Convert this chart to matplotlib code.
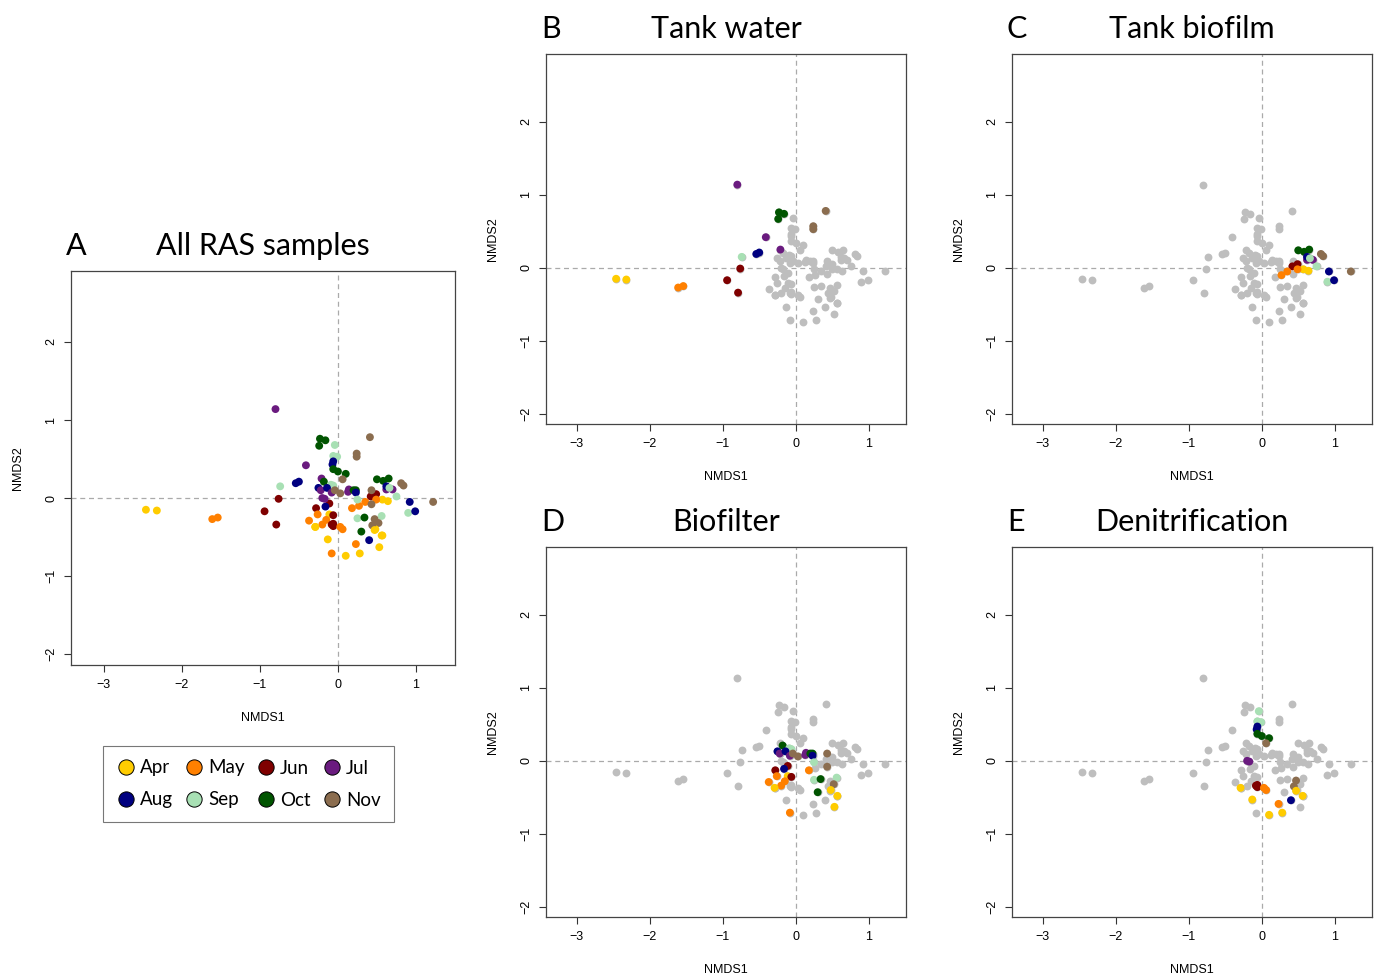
import numpy as np
import matplotlib
matplotlib.use('Agg')
import matplotlib.pyplot as plt
from matplotlib.lines import Line2D

W, H = 1381, 977

months = ['Apr', 'May', 'Jun', 'Jul', 'Aug', 'Sep', 'Oct', 'Nov']
month_colors = ['#FFCC00', '#FF8000', '#7F0000', '#6A1B7F',
                '#000080', '#A8E0B4', '#005400', '#8B6D4F']

# NMDS scores per compartment (x, y, sampling month)
tank_water_x = [-0.80, -0.23, -0.16, -0.24, 0.41, 0.24, 0.24, -0.41, -0.21, -0.54,
                -0.50, -0.74, -0.76, -0.94, -0.79, -2.46, -2.32, -1.61, -1.54]
tank_water_y = [1.14, 0.76, 0.74, 0.67, 0.78, 0.57, 0.53, 0.42, 0.25, 0.19,
                0.21, 0.15, -0.01, -0.17, -0.34, -0.15, -0.16, -0.27, -0.25]
tank_water_m = ['Jul', 'Oct', 'Oct', 'Oct', 'Nov', 'Nov', 'Nov', 'Jul', 'Jul', 'Aug',
                'Aug', 'Sep', 'Jun', 'Jun', 'Jun', 'Apr', 'Apr', 'May', 'May']

biofilm_x = [0.50, 0.58, 0.65, 0.62, 0.70, 0.62, 0.66, 0.81, 0.84, 1.22, 0.42, 0.49,
             0.57, 0.64, 0.49, 0.35, 0.27, 0.75, 0.90, 0.92, 0.99]
biofilm_y = [0.24, 0.22, 0.25, 0.11, 0.11, 0.15, 0.13, 0.19, 0.16, -0.05, 0.02, 0.05,
             -0.02, -0.04, -0.02, -0.05, -0.10, 0.02, -0.19, -0.05, -0.17]
biofilm_m = ['Oct', 'Oct', 'Oct', 'Jul', 'Jul', 'Aug', 'Sep', 'Nov', 'Nov', 'Nov', 'Jun', 'Jun',
             'Apr', 'Apr', 'May', 'May', 'May', 'Sep', 'Sep', 'Aug', 'Aug']

biofilter_x = [-0.18, -0.09, -0.06, -0.25, -0.22, -0.14, -0.08, -0.04, 0.03, 0.14, 0.13,
               0.20, 0.23, 0.23, 0.43, 0.25, 0.43, 0.18, -0.11, -0.16, -0.28, -0.26,
               -0.11, -0.06, -0.15, -0.37, -0.20, -0.29, 0.25, 0.34, 0.56, 0.52, 0.48,
               0.30, 0.57, 0.53, -0.08]
biofilter_y = [0.21, 0.17, 0.16, 0.13, 0.10, 0.13, 0.07, 0.10, 0.06, 0.11, 0.08,
               0.10, 0.10, 0.07, 0.10, -0.02, -0.08, -0.13, -0.07, -0.11, -0.13, -0.21,
               -0.21, -0.22, -0.28, -0.29, -0.34, -0.37, -0.26, -0.25, -0.23, -0.32, -0.40,
               -0.43, -0.48, -0.63, -0.71]
biofilter_m = ['Oct', 'Sep', 'Sep', 'Aug', 'Jul', 'Aug', 'Jul', 'Nov', 'Nov', 'Jul', 'Jul',
               'Oct', 'Oct', 'Aug', 'Nov', 'Sep', 'Nov', 'May', 'Jun', 'Aug', 'Jun', 'May',
               'Apr', 'Jun', 'May', 'May', 'May', 'Apr', 'Sep', 'Oct', 'Sep', 'Nov', 'Apr',
               'Oct', 'Apr', 'Apr', 'May']

denit_x = [-0.04, -0.06, -0.01, -0.06, -0.07, -0.06, 0.00, 0.10, 0.06, -0.20, -0.17,
           -0.06, -0.06, -0.08, 0.03, 0.06, -0.29, -0.13, 0.10, 0.28, 0.23, 0.40,
           0.47, 0.44, 0.47, 0.56]
denit_y = [0.68, 0.54, 0.53, 0.47, 0.43, 0.37, 0.34, 0.31, 0.24, 0.00, -0.01,
           -0.33, -0.36, -0.34, -0.37, -0.40, -0.37, -0.53, -0.74, -0.71, -0.59, -0.54,
           -0.27, -0.35, -0.41, -0.48]
denit_m = ['Sep', 'Sep', 'Sep', 'Aug', 'Aug', 'Oct', 'Oct', 'Oct', 'Nov', 'Jul', 'Jul',
           'Jun', 'Jun', 'Jun', 'May', 'May', 'Apr', 'Apr', 'Apr', 'Apr', 'May', 'Aug',
           'Nov', 'Nov', 'Apr', 'Apr']

groups = [
    ('B', 'Tank water', tank_water_x, tank_water_y, tank_water_m),
    ('C', 'Tank biofilm', biofilm_x, biofilm_y, biofilm_m),
    ('D', 'Biofilter', biofilter_x, biofilter_y, biofilter_m),
    ('E', 'Denitrification', denit_x, denit_y, denit_m),
]

col_of = dict(zip(months, month_colors))
all_x = np.concatenate([g[2] for g in groups])
all_y = np.concatenate([g[3] for g in groups])
all_m = sum([g[4] for g in groups], [])

title_font = 'Lato'
axis_font = 'Liberation Sans'
pt_size = 32


def px_rect(l, t, r, b):
    return [l / W, 1 - b / H, (r - l) / W, (b - t) / H]


def setup(ax, box, xlim, ylim, letter, title):
    l, t, r, b = box
    ax.set_xlim(*xlim)
    ax.set_ylim(*ylim)
    ax.axhline(0, color='#AAAAAA', lw=0.9, ls=(0, (4, 3)), zorder=0)
    ax.axvline(0, color='#AAAAAA', lw=0.9, ls=(0, (4, 3)), zorder=0)
    ax.set_xticks([-3, -2, -1, 0, 1])
    ax.set_yticks([-2, -1, 0, 1, 2])
    ax.tick_params(direction='out', length=5, width=0.8, color='#333333',
                   labelsize=9, pad=5)
    for lab in ax.get_xticklabels() + ax.get_yticklabels():
        lab.set_fontfamily(axis_font)
    for lab in ax.get_yticklabels():
        lab.set_rotation(90)
        lab.set_va('center')
    for s in ax.spines.values():
        s.set_color('#444444')
        s.set_linewidth(0.9)
    hpx, wpx = b - t, r - l
    ax.set_xlabel('NMDS1', fontsize=9, family=axis_font)
    ax.set_ylabel('NMDS2', fontsize=9, family=axis_font)
    ax.xaxis.set_label_coords(0.5, -53 / hpx)
    ax.xaxis.label.set_va('center')
    ax.yaxis.set_label_coords(-53 / wpx, 0.5)
    ax.yaxis.label.set_va('center')
    fig.text((l - 5) / W, 1 - (t - 16) / H, letter, fontsize=22,
             family=title_font, ha='left', va='baseline')
    fig.text((l + r) / 2 / W, 1 - (t - 16) / H, title, fontsize=22,
             family=title_font, ha='center', va='baseline')


fig = plt.figure(figsize=(W / 100, H / 100), dpi=100)

# panel A: every sample coloured by month
box_a = (71, 271, 455, 665)
ax = fig.add_axes(px_rect(*box_a))
ax.scatter(all_x, all_y, s=pt_size, c=[col_of[m] for m in all_m], linewidths=0, zorder=3)
setup(ax, box_a, (-3.42, 1.50), (-2.14, 2.91), 'A', 'All RAS samples')

boxes = [(546, 54, 906, 424), (1012, 54, 1372, 424),
         (546, 547, 906, 917), (1012, 547, 1372, 917)]

# panels B-E: all samples in grey, the compartment on top in colour
for (letter, title, gx, gy, gm), box in zip(groups, boxes):
    ax = fig.add_axes(px_rect(*box))
    ax.scatter(all_x, all_y, s=pt_size, c='#BEBEBE', linewidths=0, zorder=2)
    ax.scatter(gx, gy, s=pt_size, c=[col_of[m] for m in gm], linewidths=0, zorder=3)
    setup(ax, box, (-3.42, 1.51), (-2.14, 2.93), letter, title)

# legend, filled column by column so months read across the rows
order = [0, 4, 1, 5, 2, 6, 3, 7]
handles = [Line2D([], [], ls='none', marker='o', markersize=11,
                  markerfacecolor=month_colors[i], markeredgecolor='black',
                  markeredgewidth=0.7) for i in order]
labels = [months[i] for i in order]
leg = fig.legend(handles, labels, ncol=4, loc='upper left',
                 bbox_to_anchor=(103 / W, 1 - 746 / H, 291 / W, 0), mode='expand',
                 borderaxespad=0, frameon=True, fancybox=False,
                 prop={'family': title_font, 'size': 13.5},
                 handlelength=1.0, handletextpad=0.25, labelspacing=0.8,
                 borderpad=0.72, columnspacing=0.5)
leg.get_frame().set_edgecolor('#555555')
leg.get_frame().set_linewidth(0.8)

fig.savefig('out.png', dpi=100)
